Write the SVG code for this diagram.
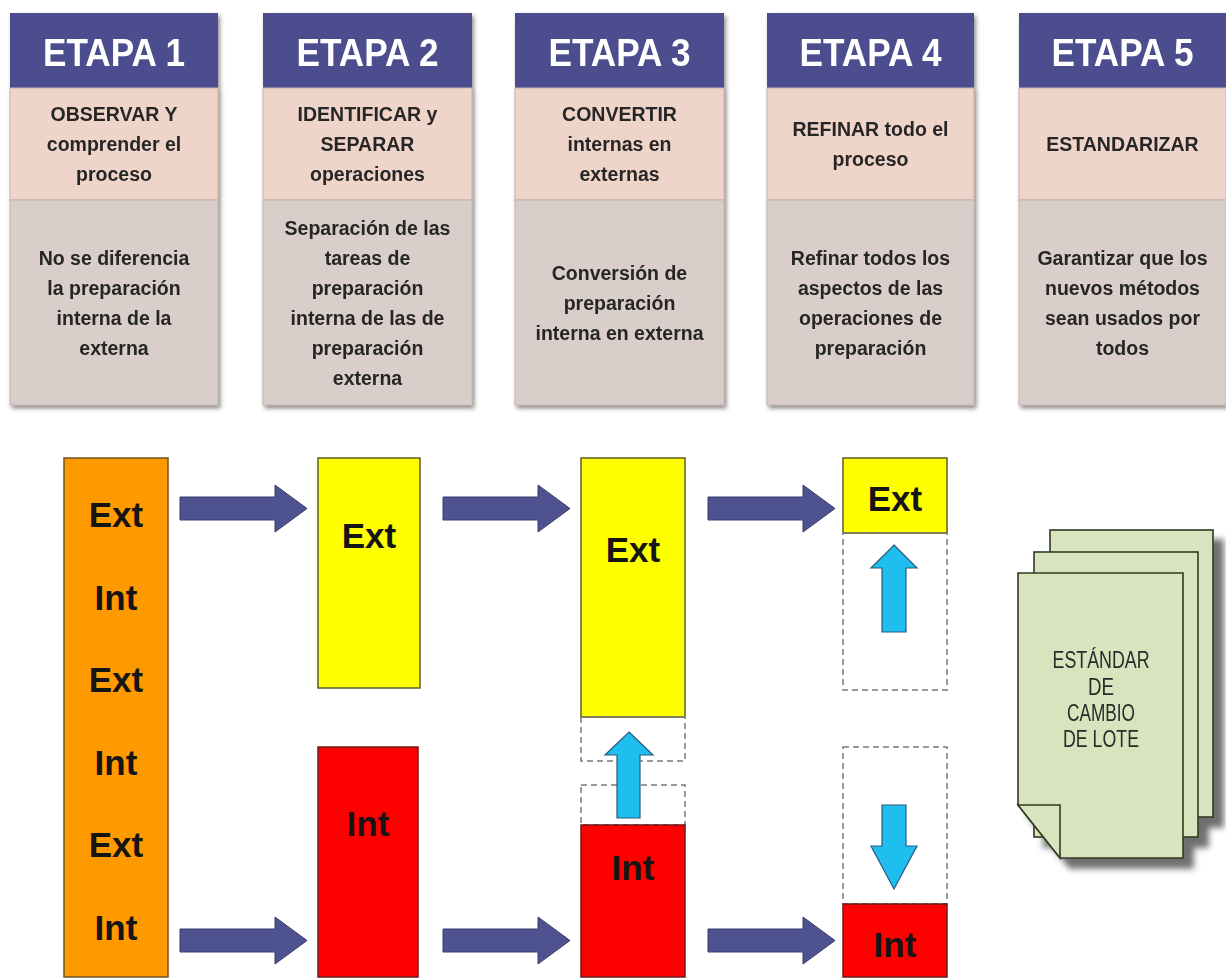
<svg xmlns="http://www.w3.org/2000/svg" width="1226" height="980" viewBox="0 0 1226 980">
<defs>
<filter id="sh" x="-10%" y="-10%" width="130%" height="130%">
<feDropShadow dx="2" dy="3" stdDeviation="2" flood-color="#4a4040" flood-opacity="0.6"/>
</filter>
<filter id="sh2" x="-10%" y="-10%" width="130%" height="130%">
<feDropShadow dx="10" dy="10" stdDeviation="3" flood-color="#555555" flood-opacity="0.85"/>
</filter>
<path id="harrow" d="M0,12 H95 V0 L127,23.5 L95,47 V35 H0 Z"/>
</defs>
<style>
.hd{fill:#4B4E8E}
.pk{fill:#EFD4C9;stroke:#C9B3AA;stroke-width:1}
.gy{fill:#D9CECA;stroke:#C2B3AE;stroke-width:1}
.ht{font-family:"Liberation Sans",Arial,sans-serif;font-weight:bold;font-size:38px;fill:#ffffff;text-anchor:middle}
.bt{font-family:"Liberation Sans",Arial,sans-serif;font-weight:bold;font-size:19.5px;fill:#262626;text-anchor:middle}
.or{fill:#FF9900;stroke:#6e5520;stroke-width:1.5}
.ye{fill:#FFFF00;stroke:#5e5e20;stroke-width:1.5}
.rd{fill:#FF0000;stroke:#6e1a1a;stroke-width:1.5}
.ds{fill:none;stroke:#7a7a7a;stroke-width:1.5;stroke-dasharray:6 4}
.bx{font-family:"Liberation Sans",Arial,sans-serif;font-weight:bold;font-size:35px;fill:#151515;text-anchor:middle}
.ba{fill:#4F5290;stroke:#3a3c6c;stroke-width:1}
.ca{fill:#1EBFEF;stroke:#2a5a80;stroke-width:1.2}
.sg{fill:#D7E4BD;stroke:#2f3a22;stroke-width:1.6}
.st{font-family:"Liberation Sans",Arial,sans-serif;font-size:24px;fill:#2a2a2a;text-anchor:middle}
</style>
<rect width="1226" height="980" fill="#ffffff"/>

<g id="stage1" filter="url(#sh)">
<rect class="hd" x="10" y="13" width="208" height="75"/>
<rect class="pk" x="10" y="88" width="208" height="112"/>
<rect class="gy" x="10" y="200" width="208" height="205"/>
<text class="ht" x="114" y="66" textLength="142" lengthAdjust="spacingAndGlyphs">ETAPA 1</text>
<text class="bt" x="114" y="121">OBSERVAR Y</text>
<text class="bt" x="114" y="151">comprender el</text>
<text class="bt" x="114" y="181">proceso</text>
<text class="bt" x="114" y="264.5">No se diferencia</text>
<text class="bt" x="114" y="294.5">la preparación</text>
<text class="bt" x="114" y="324.5">interna de la</text>
<text class="bt" x="114" y="354.5">externa</text>
</g>

<g id="stage2" filter="url(#sh)">
<rect class="hd" x="263" y="13" width="209" height="75"/>
<rect class="pk" x="263" y="88" width="209" height="112"/>
<rect class="gy" x="263" y="200" width="209" height="205"/>
<text class="ht" x="367.5" y="66" textLength="142" lengthAdjust="spacingAndGlyphs">ETAPA 2</text>
<text class="bt" x="367.5" y="121">IDENTIFICAR y</text>
<text class="bt" x="367.5" y="151">SEPARAR</text>
<text class="bt" x="367.5" y="181">operaciones</text>
<text class="bt" x="367.5" y="234.5">Separación de las</text>
<text class="bt" x="367.5" y="264.5">tareas de</text>
<text class="bt" x="367.5" y="294.5">preparación</text>
<text class="bt" x="367.5" y="324.5">interna de las de</text>
<text class="bt" x="367.5" y="354.5">preparación</text>
<text class="bt" x="367.5" y="384.5">externa</text>
</g>

<g id="stage3" filter="url(#sh)">
<rect class="hd" x="515" y="13" width="209" height="75"/>
<rect class="pk" x="515" y="88" width="209" height="112"/>
<rect class="gy" x="515" y="200" width="209" height="205"/>
<text class="ht" x="619.5" y="66" textLength="142" lengthAdjust="spacingAndGlyphs">ETAPA 3</text>
<text class="bt" x="619.5" y="121">CONVERTIR</text>
<text class="bt" x="619.5" y="151">internas en</text>
<text class="bt" x="619.5" y="181">externas</text>
<text class="bt" x="619.5" y="279.5">Conversión de</text>
<text class="bt" x="619.5" y="309.5">preparación</text>
<text class="bt" x="619.5" y="339.5">interna en externa</text>
</g>

<g id="stage4" filter="url(#sh)">
<rect class="hd" x="767" y="13" width="207" height="75"/>
<rect class="pk" x="767" y="88" width="207" height="112"/>
<rect class="gy" x="767" y="200" width="207" height="205"/>
<text class="ht" x="870.5" y="66" textLength="142" lengthAdjust="spacingAndGlyphs">ETAPA 4</text>
<text class="bt" x="870.5" y="136">REFINAR todo el</text>
<text class="bt" x="870.5" y="166">proceso</text>
<text class="bt" x="870.5" y="264.5">Refinar todos los</text>
<text class="bt" x="870.5" y="294.5">aspectos de las</text>
<text class="bt" x="870.5" y="324.5">operaciones de</text>
<text class="bt" x="870.5" y="354.5">preparación</text>
</g>

<g id="stage5" filter="url(#sh)">
<rect class="hd" x="1019" y="13" width="207" height="75"/>
<rect class="pk" x="1019" y="88" width="207" height="112"/>
<rect class="gy" x="1019" y="200" width="207" height="205"/>
<text class="ht" x="1122.5" y="66" textLength="142" lengthAdjust="spacingAndGlyphs">ETAPA 5</text>
<text class="bt" x="1122.5" y="151">ESTANDARIZAR</text>
<text class="bt" x="1122.5" y="264.5">Garantizar que los</text>
<text class="bt" x="1122.5" y="294.5">nuevos métodos</text>
<text class="bt" x="1122.5" y="324.5">sean usados por</text>
<text class="bt" x="1122.5" y="354.5">todos</text>
</g>

<g id="mixed">
<rect class="or" x="64" y="458" width="104" height="519"/>
<text class="bx" x="116" y="527">Ext</text>
<text class="bx" x="116" y="610">Int</text>
<text class="bx" x="116" y="692">Ext</text>
<text class="bx" x="116" y="775">Int</text>
<text class="bx" x="116" y="857">Ext</text>
<text class="bx" x="116" y="940">Int</text>
</g>

<g id="ext2">
<rect class="ye" x="318" y="458" width="102" height="230"/>
<text class="bx" x="369" y="548">Ext</text>
</g>
<g id="int2">
<rect class="rd" x="318" y="747" width="100" height="230"/>
<text class="bx" x="368" y="836">Int</text>
</g>

<g id="ext3">
<rect class="ye" x="581" y="458" width="104" height="259"/>
<text class="bx" x="633" y="562">Ext</text>
</g>
<g id="gap3">
<rect class="ds" x="581" y="717" width="104" height="44"/>
<rect class="ds" x="581" y="785" width="104" height="40"/>
</g>
<g id="int3">
<rect class="rd" x="581" y="825" width="104" height="152"/>
<text class="bx" x="633" y="880">Int</text>
</g>

<g id="ext4">
<rect class="ye" x="843" y="458" width="104" height="75"/>
<text class="bx" x="895" y="511">Ext</text>
</g>
<g id="gap4">
<rect class="ds" x="843" y="533" width="104" height="157"/>
<rect class="ds" x="843" y="747" width="104" height="157"/>
</g>
<g id="int4">
<rect class="rd" x="843" y="904" width="104" height="73"/>
<text class="bx" x="895" y="957">Int</text>
</g>

<g id="standard" filter="url(#sh2)">
<rect class="sg" x="1050" y="530" width="163" height="287"/>
<rect class="sg" x="1034" y="552" width="164" height="285"/>
<path class="sg" d="M1018,573 H1183 V858 H1060 L1018,805 Z"/>
<path class="sg" d="M1018,805 H1060 V858 Z"/>
<text class="st" x="1101" y="668" textLength="97" lengthAdjust="spacingAndGlyphs">ESTÁNDAR</text>
<text class="st" x="1101" y="695" textLength="26" lengthAdjust="spacingAndGlyphs">DE</text>
<text class="st" x="1101" y="721" textLength="68" lengthAdjust="spacingAndGlyphs">CAMBIO</text>
<text class="st" x="1101" y="747" textLength="76" lengthAdjust="spacingAndGlyphs">DE LOTE</text>
</g>

<g id="connectors">
<use href="#harrow" class="ba" x="180" y="485"/>
<use href="#harrow" class="ba" x="443" y="485"/>
<use href="#harrow" class="ba" x="708" y="485"/>
<use href="#harrow" class="ba" x="180" y="917"/>
<use href="#harrow" class="ba" x="443" y="917"/>
<use href="#harrow" class="ba" x="708" y="917"/>
<path class="ca" d="M629,732 L653,755 H640 V818 H617 V755 H605 Z"/>
<path class="ca" d="M894,545 L917,568 H906 V632 H882 V568 H871 Z"/>
<path class="ca" d="M894,889 L917,846 H906 V805 H882 V846 H871 Z"/>
</g>
</svg>
